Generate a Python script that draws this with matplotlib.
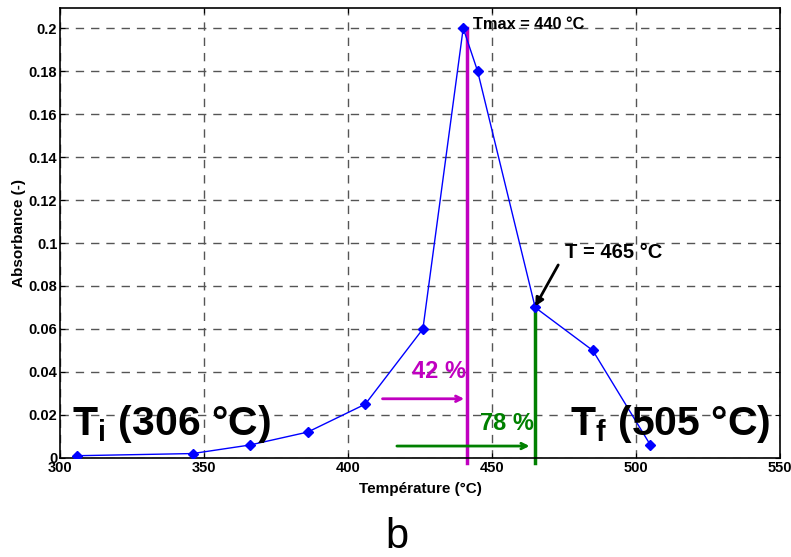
import matplotlib.pyplot as plt

plt.rcParams['font.family'] = ['Liberation Sans', 'DejaVu Sans']
plt.rcParams['mathtext.fontset'] = 'custom'
plt.rcParams['mathtext.rm'] = 'Liberation Sans'
plt.rcParams['mathtext.bf'] = 'Liberation Sans:bold'

# donnees
temperature = [306, 346, 366, 386, 406, 426, 440, 445, 465, 485, 505]
absorbance = [0.001, 0.002, 0.006, 0.012, 0.025, 0.060, 0.200, 0.180, 0.070, 0.050, 0.006]
x_ticks = [300, 350, 400, 450, 500, 550]
y_ticks = [0, 0.02, 0.04, 0.06, 0.08, 0.1, 0.12, 0.14, 0.16, 0.18, 0.2]
y_tick_labels = ['0', '0.02', '0.04', '0.06', '0.08', '0.1', '0.12', '0.14', '0.16', '0.18', '0.2']

t_42 = 441.3
t_78 = 465
t_max = 440


def main():
    fig = plt.figure(figsize=(7.91, 5.57), dpi=100)
    ax = fig.add_axes([0.076, 0.178, 0.910, 0.808])

    ax.plot(temperature, absorbance, color='blue', lw=1, marker='D', ms=5,
            mfc='blue', mec='blue', zorder=3)

    ax.set_xlim(300, 550)
    ax.set_ylim(0, 0.2095)
    ax.set_xticks(x_ticks)
    ax.set_yticks(y_ticks)
    ax.set_yticklabels(y_tick_labels)
    ax.grid(True, ls=(0, (6, 5)), color='#555555', lw=1)
    ax.tick_params(direction='in', top=True, right=True, labelsize=10.5, pad=2)
    for lab in ax.get_xticklabels() + ax.get_yticklabels():
        lab.set_fontweight('bold')
    for s in ax.spines.values():
        s.set_linewidth(1.2)

    ax.set_xlabel('Température (°C)', fontsize=11, fontweight='bold', labelpad=5)
    ax.set_ylabel('Absorbance (-)', fontsize=11, fontweight='bold', labelpad=2)

    # lignes verticales 42 % et 78 %
    ax.plot([t_42, t_42], [0.2, -0.0025], color='#c000c0', lw=2.5,
            clip_on=False, zorder=2)
    ax.plot([t_78, t_78], [0.07, -0.0025], color='#008000', lw=2.5,
            clip_on=False, zorder=2)

    ax.annotate('', xy=(t_42, 0.0275), xytext=(411, 0.0275),
                arrowprops=dict(arrowstyle='->', color='#c000c0', lw=2))
    ax.annotate('', xy=(t_78 - 1, 0.0055), xytext=(416, 0.0055),
                arrowprops=dict(arrowstyle='->', color='#008000', lw=2))

    ax.text(t_42 - 0.3, 0.040, '42 %', color='#c000c0', fontsize=17,
            fontweight='bold', va='center', ha='right')
    ax.text(t_78 - 0.3, 0.016, '78 %', color='#008000', fontsize=17,
            fontweight='bold', va='center', ha='right')

    ax.text(304, 0.0108, r'T$_\mathbf{i}$ (306 °C)', fontsize=29.5,
            fontweight='bold', va='baseline', ha='left')
    ax.text(477, 0.0108, r'T$_\mathbf{f}$ (505 °C)', fontsize=29.5,
            fontweight='bold', va='baseline', ha='left')

    ax.text(t_max + 3.5, 0.2015, 'Tmax = 440 °C', fontsize=11.8,
            fontweight='bold', va='center', ha='left')

    ax.text(475.3, 0.0955, 'T = 465 °C', fontsize=14.5, fontweight='bold',
            va='center', ha='left')
    ax.annotate('', xy=(t_78, 0.0705), xytext=(473, 0.0898),
                arrowprops=dict(arrowstyle='-|>', color='black', lw=2,
                                shrinkA=0, shrinkB=0, mutation_scale=12))

    fig.text(0.502, 0.016, 'b', fontsize=30, ha='center', va='baseline')

    fig.savefig('out.png', dpi=100)


if __name__ == "__main__":
    main()
